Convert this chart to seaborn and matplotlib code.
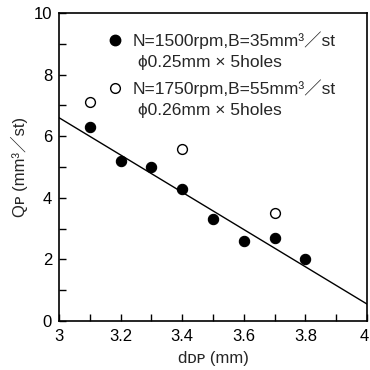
import matplotlib
matplotlib.use("Agg")
import matplotlib.pyplot as plt
import matplotlib.transforms as mtransforms
import seaborn as sns
from matplotlib.ticker import MultipleLocator

sns.set_style("ticks")
plt.rcParams['font.family'] = ['Liberation Sans', 'DejaVu Sans', 'Noto Sans CJK JP']

# data
filled_x = [3.1, 3.2, 3.3, 3.4, 3.5, 3.6, 3.7, 3.8]
filled_y = [6.3, 5.2, 5.0, 4.3, 3.3, 2.6, 2.7, 2.0]
open_x = [3.1, 3.4, 3.7]
open_y = [7.1, 5.6, 3.5]
fit_x = [3.0, 4.0]
fit_y = [6.6, 0.55]

xticks = [3, 3.2, 3.4, 3.6, 3.8, 4]
xtick_labels = ['3', '3.2', '3.4', '3.6', '3.8', '4']

legend1 = ["N=1500rpm,B=35mm³／st", "ϕ0.25mm × 5holes"]
legend2 = ["N=1750rpm,B=55mm³／st", "ϕ0.26mm × 5holes"]

fig = plt.figure(figsize=(3.7, 3.7), dpi=100)
ax = fig.add_axes([0.1595, 0.1324, 0.8325, 0.8325])

sns.lineplot(x=fit_x, y=fit_y, ax=ax, color='black', lw=1.0)
sns.scatterplot(x=filled_x, y=filled_y, ax=ax, color='black', s=55,
                edgecolor='black', linewidth=0.8, zorder=3)
sns.scatterplot(x=open_x, y=open_y, ax=ax, facecolor='white', s=50,
                edgecolor='black', linewidth=1.0, zorder=3)

ax.set_xlim(3, 4)
ax.set_ylim(0, 10)
ax.set_xticks(xticks)
ax.set_xticklabels(xtick_labels)
ax.xaxis.set_minor_locator(MultipleLocator(0.1))
ax.yaxis.set_major_locator(MultipleLocator(2))
ax.yaxis.set_minor_locator(MultipleLocator(1))
ax.tick_params(which='both', direction='in', labelsize=12, colors='black')
ax.tick_params(which='major', length=5, width=1)
ax.tick_params(which='minor', length=5, width=1)
ax.tick_params(axis='x', pad=6)
ax.tick_params(axis='y', pad=5)
for s in ax.spines.values():
    s.set_linewidth(1.2)
    s.set_color('black')

last = ax.get_xticklabels()[-1]
last.set_horizontalalignment('right')
last.set_transform(last.get_transform() +
                   mtransforms.ScaledTranslation(2 / 100, 0, fig.dpi_scale_trans))

ax.set_xlabel("dᴅᴘ (mm)", fontsize=12, labelpad=5)
ax.set_ylabel("Qᴘ (mm³／st)", fontsize=12, labelpad=4)

# legend
tr = ax.transAxes
ax.plot([0.182], [0.912], 'o', color='black', ms=7.5, transform=tr, clip_on=False)
ax.plot([0.182], [0.756], 'o', mfc='white', mec='black', mew=1.0, ms=7, transform=tr, clip_on=False)
ax.text(0.240, 0.912, legend1[0], transform=tr, fontsize=12.5, va='center', ha='left')
ax.text(0.256, 0.838, legend1[1], transform=tr, fontsize=12.5, va='center', ha='left')
ax.text(0.240, 0.756, legend2[0], transform=tr, fontsize=12.5, va='center', ha='left')
ax.text(0.256, 0.685, legend2[1], transform=tr, fontsize=12.5, va='center', ha='left')

fig.savefig("out.png", dpi=100)
